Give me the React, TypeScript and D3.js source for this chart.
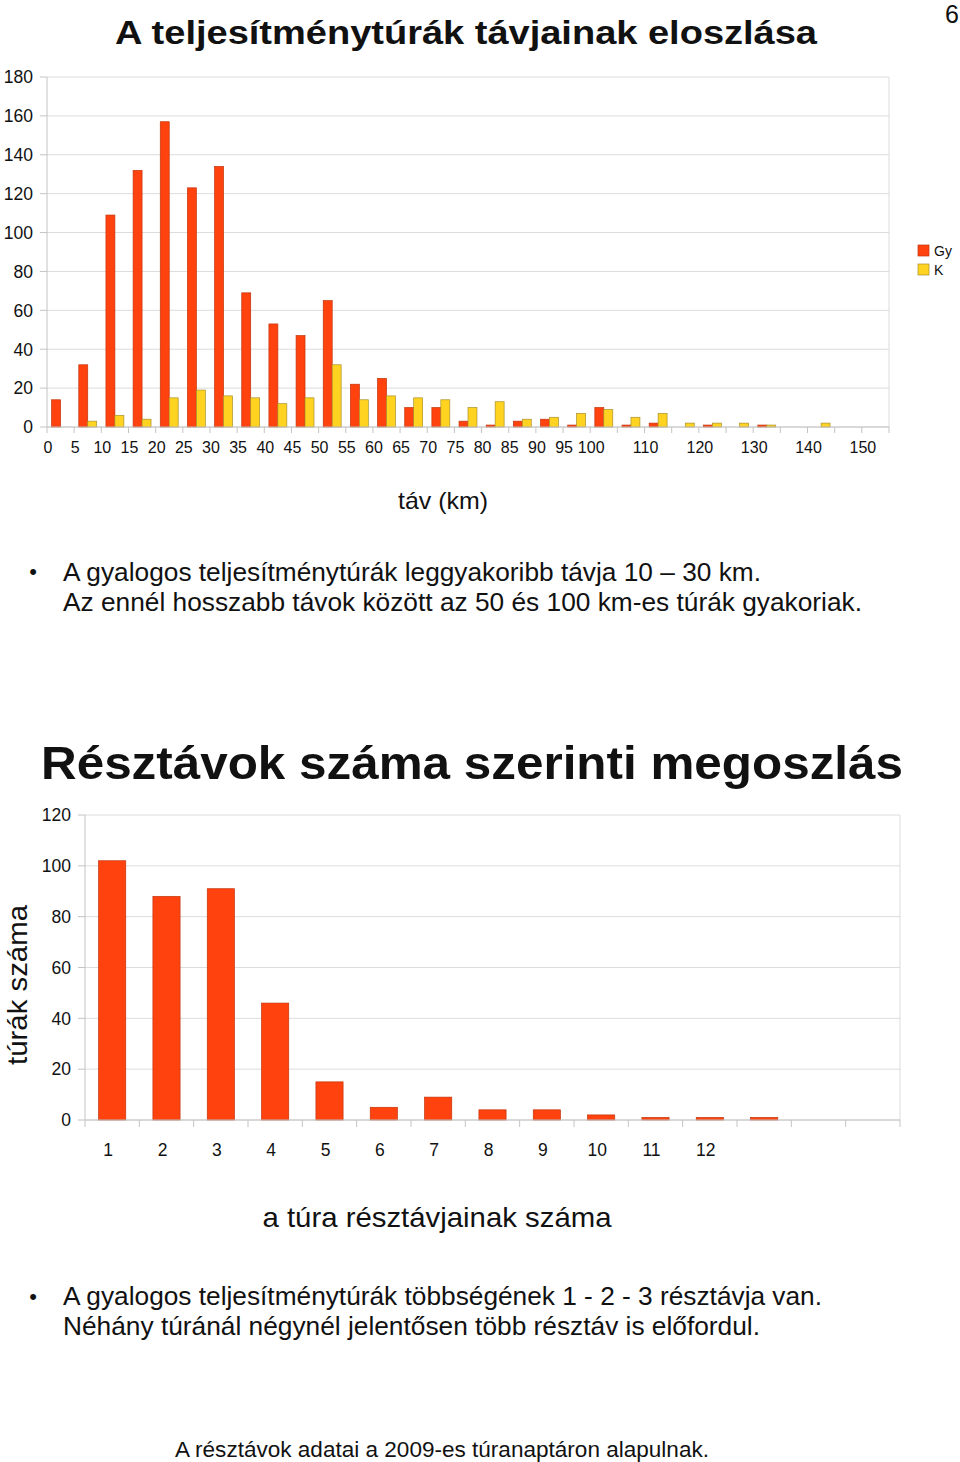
import React from "react";
import * as d3 from "d3";

// ---------- Data: chart 1 (distance distribution) ----------
const distCategories = [0, 5, 10, 15, 20, 25, 30, 35, 40, 45, 50, 55, 60, 65, 70, 75, 80, 85, 90, 95, 100, 105, 110, 115, 120, 125, 130, 135, 140, 145, 150];
const distTickLabels = ["0", "5", "10", "15", "20", "25", "30", "35", "40", "45", "50", "55", "60", "65", "70", "75", "80", "85", "90", "95", "100", "", "110", "", "120", "", "130", "", "140", "", "150"];
const gyValues = [14, 32, 109, 132, 157, 123, 134, 69, 53, 47, 65, 22, 25, 10, 10, 3, 1, 3, 4, 1, 10, 1, 2, 0, 1, 0, 1, 0, 0, 0, 0];
const kValues = [0, 3, 6, 4, 15, 19, 16, 15, 12, 15, 32, 14, 16, 15, 14, 10, 13, 4, 5, 7, 9, 5, 7, 2, 2, 2, 1, 0, 2, 0, 0];
const distYTicks = [0, 20, 40, 60, 80, 100, 120, 140, 160, 180];
const seriesNames = ["Gy", "K"];

// ---------- Data: chart 2 (number of sections) ----------
const sectionCategories = ["1", "2", "3", "4", "5", "6", "7", "8", "9", "10", "11", "12", "13", "14", "15"];
const sectionTickLabels = ["1", "2", "3", "4", "5", "6", "7", "8", "9", "10", "11", "12", "", "", ""];
const sectionValues = [102, 88, 91, 46, 15, 5, 9, 4, 4, 2, 1, 1, 1, 0, 0];
const sectionYTicks = [0, 20, 40, 60, 80, 100, 120];

const FONT = "'Liberation Sans', Arial, Helvetica, sans-serif";
const GY = "#ff420e";
const GY_STROKE = "#c2340c";
const K = "#ffd320";
const K_STROKE = "#a8902c";
const GRID = "#dcdcdc";
const AXIS = "#c4c4c4";

function DistChart() {
  const left = 47, right = 889, top = 77, bottom = 427;
  const x0 = d3.scaleBand<number>().domain(distCategories).range([left, right]).paddingInner(0).paddingOuter(0);
  const bw = x0.bandwidth();
  const x1 = d3.scaleBand<string>().domain(seriesNames).range([bw * 0.17, bw * 0.83]).padding(0);
  const y = d3.scaleLinear().domain([0, 180]).range([bottom, top]);
  const series = [
    { name: "Gy", values: gyValues, fill: GY, stroke: GY_STROKE },
    { name: "K", values: kValues, fill: K, stroke: K_STROKE },
  ];
  return (
    <g>
      {distYTicks.map((t) => (
        <g key={t}>
          <line x1={left} x2={right} y1={y(t)} y2={y(t)} stroke={GRID} strokeWidth={1} />
          <line x1={left - 7} x2={left} y1={y(t)} y2={y(t)} stroke={AXIS} strokeWidth={1} />
          <text x={33} y={y(t)} dy="0.36em" textAnchor="end" fontSize={17.5} fill="#111">{t}</text>
        </g>
      ))}
      <line x1={left} x2={left} y1={top} y2={bottom} stroke={AXIS} />
      <line x1={right} x2={right} y1={top} y2={bottom} stroke={GRID} />
      {distCategories.map((c, i) => (
        <line key={"tk" + c} x1={x0(c)!} x2={x0(c)!} y1={bottom} y2={bottom + 6} stroke={AXIS} />
      ))}
      <line x1={right} x2={right} y1={bottom} y2={bottom + 6} stroke={AXIS} />
      {series.map((s) =>
        distCategories.map((c, i) =>
          s.values[i] > 0 ? (
            <rect
              key={s.name + c}
              x={x0(c)! + x1(s.name)!}
              y={y(s.values[i])}
              width={x1.bandwidth()}
              height={y(0) - y(s.values[i])}
              fill={s.fill}
              stroke={s.stroke}
              strokeWidth={0.7}
            />
          ) : null
        )
      )}
      <line x1={left} x2={right} y1={bottom} y2={bottom} stroke={AXIS} />
      {distCategories.map((c, i) =>
        distTickLabels[i] ? (
          <text key={"lb" + c} x={x0(c)! + 1} y={453} textAnchor="middle" fontSize={16} fill="#111">
            {distTickLabels[i]}
          </text>
        ) : null
      )}
      {/* legend */}
      {series.map((s, i) => (
        <g key={"lg" + s.name}>
          <rect x={918} y={245 + i * 19} width={11} height={11} fill={s.fill} stroke={s.stroke} strokeWidth={0.7} />
          <text x={934} y={251 + i * 19} dy="0.36em" fontSize={14} fill="#111">{s.name}</text>
        </g>
      ))}
      <text x={443} y={509} textAnchor="middle" fontSize={24} fill="#111" textLength={90} lengthAdjust="spacingAndGlyphs">táv (km)</text>
    </g>
  );
}

function SectionChart() {
  const left = 85, right = 900, top = 815, bottom = 1120;
  const x = d3.scaleBand<string>().domain(sectionCategories).range([left, right]).paddingInner(0).paddingOuter(0);
  const bw = x.bandwidth();
  const y = d3.scaleLinear().domain([0, 120]).range([bottom, top]);
  return (
    <g>
      {sectionYTicks.map((t) => (
        <g key={t}>
          <line x1={left} x2={right} y1={y(t)} y2={y(t)} stroke={GRID} />
          <line x1={left - 7} x2={left} y1={y(t)} y2={y(t)} stroke={AXIS} />
          <text x={71} y={y(t)} dy="0.36em" textAnchor="end" fontSize={17.5} fill="#111">{t}</text>
        </g>
      ))}
      <line x1={left} x2={left} y1={top} y2={bottom} stroke={AXIS} />
      <line x1={right} x2={right} y1={top} y2={bottom} stroke={GRID} />
      {sectionCategories.map((c) => (
        <line key={"tk" + c} x1={x(c)!} x2={x(c)!} y1={bottom} y2={bottom + 7} stroke={AXIS} />
      ))}
      <line x1={right} x2={right} y1={bottom} y2={bottom + 7} stroke={AXIS} />
      {sectionCategories.map((c, i) =>
        sectionValues[i] > 0 ? (
          <rect
            key={"b" + c}
            x={x(c)! + bw * 0.25}
            y={y(sectionValues[i])}
            width={bw * 0.5}
            height={y(0) - y(sectionValues[i])}
            fill={GY}
            stroke={GY_STROKE}
            strokeWidth={0.7}
          />
        ) : null
      )}
      <line x1={left} x2={right} y1={bottom} y2={bottom} stroke={AXIS} />
      {sectionCategories.map((c, i) =>
        sectionTickLabels[i] ? (
          <text key={"lb" + c} x={x(c)! + bw / 2 - 4} y={1156} textAnchor="middle" fontSize={17.5} fill="#111">
            {sectionTickLabels[i]}
          </text>
        ) : null
      )}
      <text
        transform={`translate(27,985) rotate(-90)`}
        textAnchor="middle"
        fontSize={28}
        fill="#111"
        textLength={160}
        lengthAdjust="spacingAndGlyphs"
      >
        túrák száma
      </text>
      <text x={437} y={1227} textAnchor="middle" fontSize={28} fill="#111" textLength={349} lengthAdjust="spacingAndGlyphs">
        a túra résztávjainak száma
      </text>
    </g>
  );
}

export default function App() {
  return (
    <svg
      width={960}
      height={1462}
      viewBox="0 0 960 1462"
      style={{ position: "absolute", left: 0, top: 0, display: "block", background: "#fff" }}
      fontFamily={FONT}
    >
      <rect x={0} y={0} width={960} height={1462} fill="#fff" />
      <text x={952} y={23} textAnchor="middle" fontSize={25} fill="#111">6</text>
      <text x={466} y={44} textAnchor="middle" fontSize={34} fontWeight="bold" fill="#111" textLength={702} lengthAdjust="spacingAndGlyphs">
        A teljesítménytúrák távjainak eloszlása
      </text>
      <DistChart />
      <text x={33} y={571} dy="0.36em" textAnchor="middle" fontSize={22} fill="#111">•</text>
      <text x={63} y={581} fontSize={25} fill="#111" textLength={698} lengthAdjust="spacingAndGlyphs">
        A gyalogos teljesítménytúrák leggyakoribb távja 10 – 30 km.
      </text>
      <text x={63} y={611} fontSize={25} fill="#111" textLength={799} lengthAdjust="spacingAndGlyphs">
        Az ennél hosszabb távok között az 50 és 100 km-es túrák gyakoriak.
      </text>
      <text x={41} y={779} fontSize={47} fontWeight="bold" fill="#111" textLength={862} lengthAdjust="spacingAndGlyphs">
        Résztávok száma szerinti megoszlás
      </text>
      <SectionChart />
      <text x={33} y={1296} dy="0.36em" textAnchor="middle" fontSize={22} fill="#111">•</text>
      <text x={63} y={1305} fontSize={25} fill="#111" textLength={759} lengthAdjust="spacingAndGlyphs">
        A gyalogos teljesítménytúrák többségének 1 - 2 - 3 résztávja van.
      </text>
      <text x={63} y={1335} fontSize={25} fill="#111" textLength={697} lengthAdjust="spacingAndGlyphs">
        Néhány túránál négynél jelentősen több résztáv is előfordul.
      </text>
      <text x={442} y={1457} textAnchor="middle" fontSize={22} fill="#111" textLength={534} lengthAdjust="spacingAndGlyphs">
        A résztávok adatai a 2009-es túranaptáron alapulnak.
      </text>
    </svg>
  );
}
